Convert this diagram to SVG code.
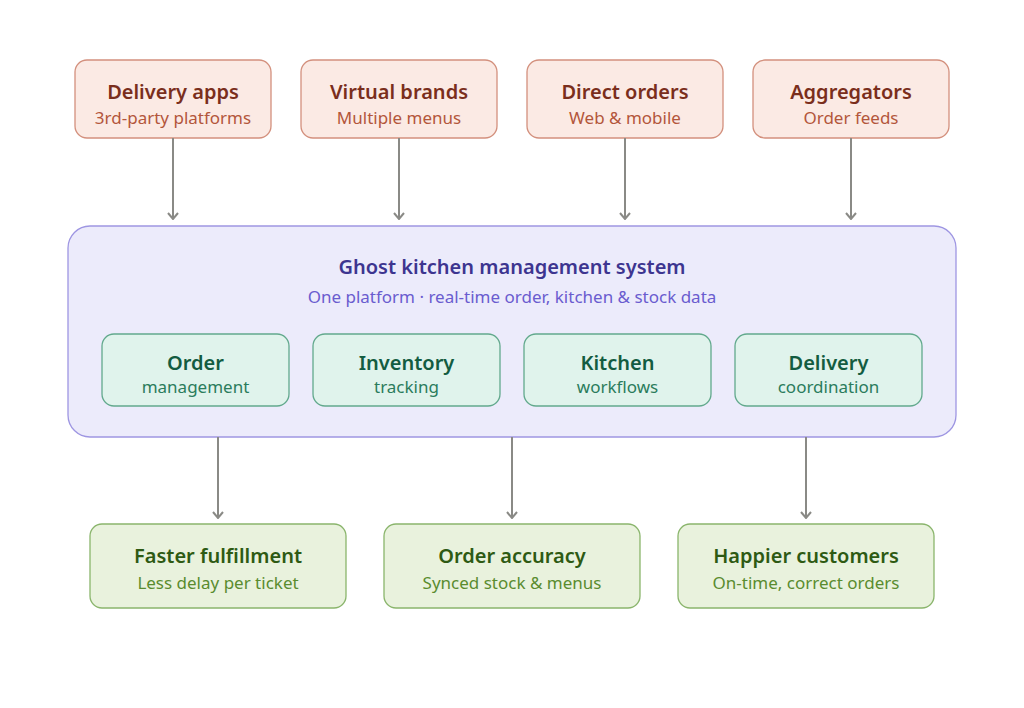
<svg xmlns="http://www.w3.org/2000/svg" width="1024" height="708" viewBox="0 0 1024 708">
<defs>
<style>
text{font-family:"Noto Sans","Open Sans","Liberation Sans",sans-serif;text-anchor:middle}
.src rect{fill:#fbeae4;stroke:#d3907d;stroke-width:1.3}
.src .t{fill:#7a2e1c;font-size:20px;font-weight:600}
.src .s{fill:#b3563b;font-size:17px}
.mod rect{fill:#e0f3ec;stroke:#62a98d;stroke-width:1.3}
.mod .t{fill:#135c41;font-size:20px;font-weight:600}
.mod .s{fill:#2b7c5c;font-size:17px}
.out rect{fill:#e9f2dd;stroke:#8ab56c;stroke-width:1.3}
.out .t{fill:#2e5a13;font-size:20px;font-weight:600}
.out .s{fill:#5a8c2f;font-size:17px}
.conn line{stroke:#8a8a86;stroke-width:2;marker-end:url(#ah)}
</style>
<marker id="ah" viewBox="0 0 12 12" refX="11" refY="6" markerWidth="12" markerHeight="12" markerUnits="userSpaceOnUse" orient="auto">
<path d="M5,1 L11,6 L5,11" fill="none" stroke="#8a8a86" stroke-width="2"/>
</marker>
</defs>
<rect width="1024" height="708" fill="#ffffff"/>
<g id="system">
<rect x="68" y="226" width="888" height="211" rx="22" fill="#ecebfb" stroke="#9e96e2" stroke-width="1.3"/>
<text x="512" y="274" fill="#3d3590" font-size="20" font-weight="600">Ghost kitchen management system</text>
<text x="512" y="303" fill="#6a5ccf" font-size="17">One platform · real-time order, kitchen &amp; stock data</text>
</g>
<g id="delivery-apps" class="src"><rect x="75" y="60" width="196" height="78" rx="12"/><text class="t" x="173" y="99">Delivery apps</text><text class="s" x="173" y="124">3rd-party platforms</text></g>
<g id="virtual-brands" class="src"><rect x="301" y="60" width="196" height="78" rx="12"/><text class="t" x="399" y="99">Virtual brands</text><text class="s" x="399" y="124">Multiple menus</text></g>
<g id="direct-orders" class="src"><rect x="527" y="60" width="196" height="78" rx="12"/><text class="t" x="625" y="99">Direct orders</text><text class="s" x="625" y="124">Web &amp; mobile</text></g>
<g id="aggregators" class="src"><rect x="753" y="60" width="196" height="78" rx="12"/><text class="t" x="851" y="99">Aggregators</text><text class="s" x="851" y="124">Order feeds</text></g>
<g id="order-mgmt" class="mod"><rect x="102" y="334" width="187" height="72" rx="12"/><text class="t" x="195.5" y="370">Order</text><text class="s" x="195.5" y="393">management</text></g>
<g id="inventory" class="mod"><rect x="313" y="334" width="187" height="72" rx="12"/><text class="t" x="406.5" y="370">Inventory</text><text class="s" x="406.5" y="393">tracking</text></g>
<g id="kitchen" class="mod"><rect x="524" y="334" width="187" height="72" rx="12"/><text class="t" x="617.5" y="370">Kitchen</text><text class="s" x="617.5" y="393">workflows</text></g>
<g id="delivery" class="mod"><rect x="735" y="334" width="187" height="72" rx="12"/><text class="t" x="828.5" y="370">Delivery</text><text class="s" x="828.5" y="393">coordination</text></g>
<g id="faster" class="out"><rect x="90" y="524" width="256" height="84" rx="12"/><text class="t" x="218" y="563">Faster fulfillment</text><text class="s" x="218" y="589">Less delay per ticket</text></g>
<g id="accuracy" class="out"><rect x="384" y="524" width="256" height="84" rx="12"/><text class="t" x="512" y="563">Order accuracy</text><text class="s" x="512" y="589">Synced stock &amp; menus</text></g>
<g id="happier" class="out"><rect x="678" y="524" width="256" height="84" rx="12"/><text class="t" x="806" y="563">Happier customers</text><text class="s" x="806" y="589">On-time, correct orders</text></g>
<g id="connectors" class="conn">
<line x1="173" y1="138" x2="173" y2="219"/>
<line x1="399" y1="138" x2="399" y2="219"/>
<line x1="625" y1="138" x2="625" y2="219"/>
<line x1="851" y1="138" x2="851" y2="219"/>
<line x1="218" y1="437" x2="218" y2="518"/>
<line x1="512" y1="437" x2="512" y2="518"/>
<line x1="806" y1="437" x2="806" y2="518"/>
</g>
</svg>
